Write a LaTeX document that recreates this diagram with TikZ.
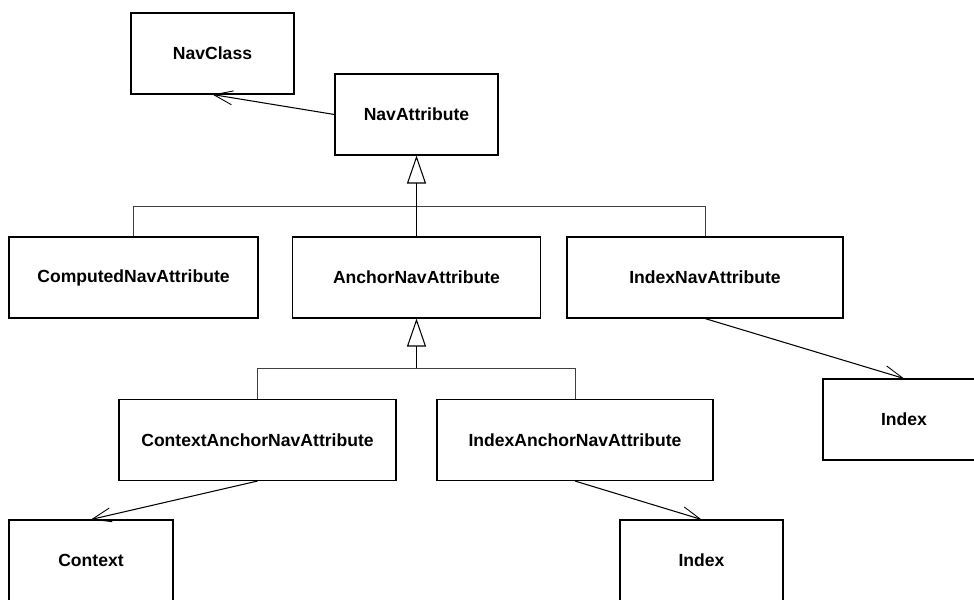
\documentclass[tikz,border=0pt]{standalone}
\usepackage{fontspec}
\setmainfont{Liberation Sans}
\usetikzlibrary{arrows.meta}

\begin{document}
\begin{tikzpicture}[x = 0.2mm, y = -0.2mm, line width = 0.6pt,
	cls/.style = {draw, rectangle, inner sep = 0, minimum height = 16.2mm, font = \fontsize{10}{12}\selectfont\bfseries},
	assoc/.style = {-{Straight Barb[length = 3.8mm, width = 2.8mm, line width = 0.5pt]}},
	gen/.style = {-{Triangle[open, length = 5.6mm, width = 3.8mm, line width = 0.6pt]}},
	bus/.style = {line width = 0.5pt, draw = black!75}]
	\useasboundingbox (0, 0) rectangle (974, 599);
	\clip (0, 0) rectangle (974, 599);

	\node[cls, minimum width = 32.6mm] (navclass) at (212.5, 53.5){NavClass};
	\node[cls, minimum width = 32.6mm] (navattr) at (416.5, 114.5){NavAttribute};

	\node[cls, minimum width = 49.8mm] (computed) at (133.5, 277.5){ComputedNavAttribute};
	\node[cls, minimum width = 49.6mm] (anchor) at (416.5, 277.5){AnchorNavAttribute};
	\node[cls, minimum width = 55.2mm] (indexnav) at (705, 277.5){IndexNavAttribute};
	\node[cls, minimum width = 32.4mm] (indexA) at (904, 419.5){Index};

	\node[cls, minimum width = 55.4mm] (ctxanchor) at (257.5, 440){ContextAnchorNavAttribute};
	\node[cls, minimum width = 55.2mm] (idxanchor) at (575, 440){IndexAnchorNavAttribute};

	\node[cls, minimum width = 32.8mm] (context) at (91, 560.5){Context};
	\node[cls, minimum width = 32.6mm] (indexB) at (701.5, 560.5){Index};

	% generalisation buses
	\coordinate (busA) at (416.5, 206);
	\coordinate (busB) at (416.5, 368);

	\draw[gen] (busA) -- (navattr.south);
	\draw[bus] (computed.north) |- (busA) -| (indexnav.north);
	\draw (anchor.north) -- (busA);

	\draw[gen] (busB) -- (anchor.south);
	\draw[bus] (ctxanchor.north) |- (busB) -| (idxanchor.north);

	% associations
	\draw[assoc] (navattr.west) -- (navclass.south);
	\draw[assoc] (indexnav.south) -- (indexA.north);
	\draw[assoc] (ctxanchor.south) -- (context.north);
	\draw[assoc] (idxanchor.south) -- (indexB.north);
\end{tikzpicture}
\end{document}
